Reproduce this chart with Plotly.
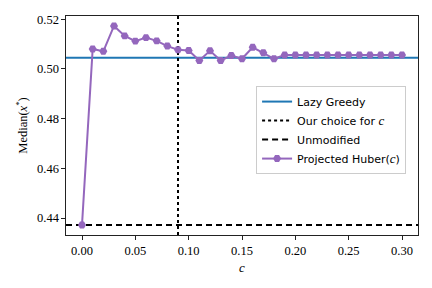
import plotly.graph_objects as go

c_values = [0.00, 0.01, 0.02, 0.03, 0.04, 0.05, 0.06, 0.07, 0.08, 0.09, 0.10,
            0.11, 0.12, 0.13, 0.14, 0.15, 0.16, 0.17, 0.18, 0.19, 0.20,
            0.21, 0.22, 0.23, 0.24, 0.25, 0.26, 0.27, 0.28, 0.29, 0.30]
huber_median = [0.4372, 0.5080, 0.5071, 0.5173, 0.5133, 0.5112, 0.5126, 0.5113, 0.5092, 0.5077, 0.5074,
                0.5034, 0.5073, 0.5034, 0.5054, 0.5041, 0.5087, 0.5065, 0.5041, 0.5056, 0.5056,
                0.5056, 0.5056, 0.5056, 0.5056, 0.5056, 0.5056, 0.5056, 0.5056, 0.5056, 0.5056]
lazy_greedy = 0.5045
unmodified = 0.4372
our_choice_c = 0.09

x_range = [-0.015, 0.315]
y_range = [0.4332, 0.5213]
x_ticks = [0.00, 0.05, 0.10, 0.15, 0.20, 0.25, 0.30]
y_ticks = [0.44, 0.46, 0.48, 0.50, 0.52]

serif = "Liberation Serif"
sans = "DejaVu Sans"
c_ital = '<span style="font-family:Liberation Serif;font-size:13px"><i>c</i></span>'

fig = go.Figure()
fig.add_trace(go.Scatter(x=x_range, y=[lazy_greedy, lazy_greedy], mode="lines",
                         line=dict(color="#1f77b4", width=2), name="Lazy Greedy"))
fig.add_trace(go.Scatter(x=[our_choice_c, our_choice_c], y=y_range, mode="lines",
                         line=dict(color="black", width=2, dash="dot"),
                         name="Our choice for " + c_ital))
fig.add_trace(go.Scatter(x=x_range, y=[unmodified, unmodified], mode="lines",
                         line=dict(color="black", width=2, dash="6px,4px"), name="Unmodified"))
fig.add_trace(go.Scatter(x=c_values, y=huber_median, mode="lines+markers",
                         line=dict(color="#9467bd", width=2),
                         marker=dict(symbol="hexagon2", size=8, color="#9467bd"),
                         name="Projected Huber(" + c_ital + ")"))

axis_common = dict(showline=True, linecolor="#222222", linewidth=1.2, mirror=True,
                   ticks="outside", ticklen=3.5, tickwidth=1, tickcolor="#222222",
                   showgrid=False, zeroline=False, automargin=False,
                   tickfont=dict(family=serif, size=12.5, color="black"))

# page body has an 8px default margin, so the figure is 8px smaller and offset
fig.update_layout(
    width=424, height=280,
    margin=dict(l=58, r=14, t=8, b=53),
    paper_bgcolor="white", plot_bgcolor="white",
    xaxis=dict(range=x_range, tickvals=x_ticks, tickformat=".2f",
               title=dict(text="<i>c</i>", font=dict(family=serif, size=13, color="black"), standoff=6),
               **axis_common),
    yaxis=dict(range=y_range, tickvals=y_ticks, tickformat=".2f",
               title=dict(text="Median(<i>x</i><sup>*</sup>)", font=dict(family=serif, size=12.5, color="black"), standoff=6),
               **axis_common),
    legend=dict(x=0.54, y=0.68, xanchor="left", yanchor="top",
                bgcolor="white", bordercolor="#cccccc", borderwidth=1,
                font=dict(family=sans, size=11, color="black"),
                tracegroupgap=0, itemwidth=30),
    showlegend=True,
)

fig.write_html("out.html")
